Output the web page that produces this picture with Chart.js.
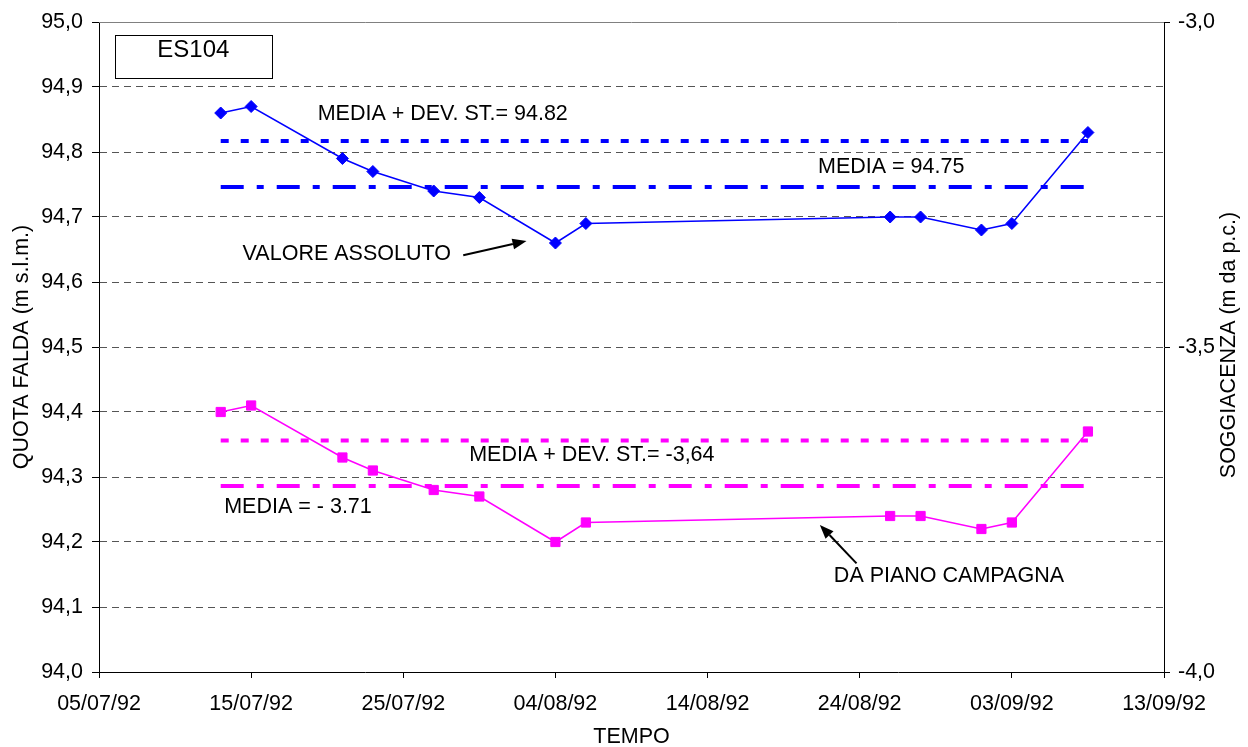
<!DOCTYPE html>
<html>
<head>
<meta charset="utf-8">
<script src="https://cdn.jsdelivr.net/npm/chart.js@4.4.0/dist/chart.umd.min.js"></script>
<style>
  html, body { margin: 0; padding: 0; background: #ffffff; }
  canvas { display: block; }
</style>
</head>
<body>
<canvas id="chart" width="1248" height="747"></canvas>
<script>
// ---------------- DATA ----------------
const measureDates = ['13/07/92','15/07/92','21/07/92','23/07/92','27/07/92','30/07/92','04/08/92','06/08/92','26/08/92','28/08/92','01/09/92','03/09/92','08/09/92'];
const quotaFalda   = [94.86, 94.87, 94.79, 94.77, 94.74, 94.73, 94.66, 94.69, 94.70, 94.70, 94.68, 94.69, 94.83];
const soggiacenza  = [-3.60, -3.59, -3.67, -3.69, -3.72, -3.73, -3.80, -3.77, -3.76, -3.76, -3.78, -3.77, -3.63];

const mediaQuota       = 94.746;
const mediaDevQuota    = 94.817;
const mediaSogg        = -3.714;
const mediaDevSogg     = -3.644;

const xTickLabels      = ['05/07/92','15/07/92','25/07/92','04/08/92','14/08/92','24/08/92','03/09/92','13/09/92'];
const yLeftTicks       = [94.0, 94.1, 94.2, 94.3, 94.4, 94.5, 94.6, 94.7, 94.8, 94.9, 95.0];
const yRightTicks      = [-4.0, -3.5, -3.0];

const titleLeft  = 'QUOTA FALDA (m s.l.m.)';
const titleRight = 'SOGGIACENZA (m da p.c.)';
const titleX     = 'TEMPO';

// annotations: x = days after first axis tick, y = value on left axis
const annotations = [
  { type: 'box',   x0: 1.05, x1: 11.39, y0: 94.9795, y1: 94.9145 },
  { type: 'text',  text: 'ES104', x: 6.2, y: 94.9557, align: 'center', size: 24 },
  { type: 'text',  text: 'MEDIA + DEV. ST.= 94.82', x: 14.37, y: 94.8576, align: 'left', size: 21.5 },
  { type: 'text',  text: 'MEDIA = 94.75', x: 47.26, y: 94.777, align: 'left', size: 21.5 },
  { type: 'text',  text: 'VALORE ASSOLUTO', x: 9.44, y: 94.6428, align: 'left', size: 21.5 },
  { type: 'arrow', x0: 23.94, y0: 94.6413, x1: 28.10, y1: 94.6632 },
  { type: 'text',  text: 'MEDIA + DEV. ST.= -3,64', x: 24.33, y: 94.3337, align: 'left', size: 21.5 },
  { type: 'text',  text: 'MEDIA = - 3.71', x: 8.23, y: 94.2542, align: 'left', size: 21.5 },
  { type: 'text',  text: 'DA PIANO CAMPAGNA', x: 48.30, y: 94.1476, align: 'left', size: 21.5 },
  { type: 'arrow', x0: 49.79, y0: 94.1672, x1: 47.38, y1: 94.2263 }
];

// ---------------- HELPERS ----------------
function dayNum(s) {
  const [d, m, y] = s.split('/').map(Number);
  return Date.UTC(1900 + y, m - 1, d) / 86400000;
}
const xs = measureDates.map(dayNum);
const xMin = dayNum(xTickLabels[0]);
const xMax = dayNum(xTickLabels[xTickLabels.length - 1]);
const xFirst = xs[0], xLast = xs[xs.length - 1];

const FONT = '"Liberation Sans", Arial, Helvetica, sans-serif';
const FS = 21.5;
Chart.defaults.font.family = FONT;
Chart.defaults.font.size = FS;
Chart.defaults.color = '#000';

const BLUE = '#0000ff';
const PINK = '#ff00ff';

const overlayPlugin = {
  id: 'overlay',
  afterDraw(chart) {
    const ctx = chart.ctx;
    const xS = chart.scales.x, yS = chart.scales.y;
    const ca = chart.chartArea;
    const px = d => xS.getPixelForValue(xMin + d);
    const py = v => yS.getPixelForValue(v);
    ctx.save();
    // top border of plot area
    ctx.strokeStyle = '#808080';
    ctx.lineWidth = 1;
    ctx.beginPath();
    ctx.moveTo(ca.left, Math.round(ca.top) + 0.5);
    ctx.lineTo(ca.right, Math.round(ca.top) + 0.5);
    ctx.stroke();

    annotations.forEach(a => {
      if (a.type === 'box') {
        const x0 = Math.round(px(a.x0)) + 0.5, x1 = Math.round(px(a.x1)) + 0.5;
        const y0 = Math.round(py(a.y0)) + 0.5, y1 = Math.round(py(a.y1)) + 0.5;
        ctx.fillStyle = '#fff';
        ctx.fillRect(x0, y0, x1 - x0, y1 - y0);
        ctx.strokeStyle = '#000';
        ctx.lineWidth = 1;
        ctx.strokeRect(x0, y0, x1 - x0, y1 - y0);
      } else if (a.type === 'text') {
        ctx.fillStyle = '#000';
        ctx.font = a.size + 'px ' + FONT;
        ctx.textAlign = a.align;
        ctx.textBaseline = 'middle';
        ctx.fillText(a.text, px(a.x), py(a.y));
      } else if (a.type === 'arrow') {
        const x0 = px(a.x0), y0 = py(a.y0), x1 = px(a.x1), y1 = py(a.y1);
        const ang = Math.atan2(y1 - y0, x1 - x0);
        const hl = 14, hw = 5.5;
        const bx = x1 - hl * Math.cos(ang), by = y1 - hl * Math.sin(ang);
        ctx.strokeStyle = '#000';
        ctx.lineWidth = 2;
        ctx.beginPath();
        ctx.moveTo(x0, y0);
        ctx.lineTo(bx, by);
        ctx.stroke();
        ctx.fillStyle = '#000';
        ctx.beginPath();
        ctx.moveTo(x1, y1);
        ctx.lineTo(bx + hw * Math.sin(ang), by - hw * Math.cos(ang));
        ctx.lineTo(bx - hw * Math.sin(ang), by + hw * Math.cos(ang));
        ctx.closePath();
        ctx.fill();
      }
    });

    // right axis title, reading bottom-to-top
    ctx.fillStyle = '#000';
    ctx.font = FS + 'px ' + FONT;
    ctx.textAlign = 'center';
    ctx.textBaseline = 'middle';
    ctx.translate(1229, (ca.top + ca.bottom) / 2 - 2);
    ctx.rotate(-Math.PI / 2);
    ctx.fillText(titleRight, 0, 0);
    ctx.restore();
  }
};

const refLine = (yVal, color, dash, axis) => ({
  data: [{ x: xFirst, y: yVal }, { x: xLast, y: yVal }],
  borderColor: color,
  borderWidth: 4,
  borderDash: dash,
  pointRadius: 0,
  pointHoverRadius: 0,
  yAxisID: axis,
  tension: 0,
  fill: false
});

const DOT = [8, 12];
const DASHDOT = [23, 13, 7, 13];

new Chart(document.getElementById('chart'), {
  type: 'line',
  data: {
    datasets: [
      {
        label: 'Valore assoluto',
        data: xs.map((x, i) => ({ x, y: quotaFalda[i] })),
        borderColor: BLUE,
        backgroundColor: BLUE,
        borderWidth: 1.5,
        pointStyle: 'rectRot',
        pointRadius: 6,
        pointBorderWidth: 1,
        yAxisID: 'y',
        tension: 0
      },
      {
        label: 'Da piano campagna',
        data: xs.map((x, i) => ({ x, y: soggiacenza[i] })),
        borderColor: PINK,
        backgroundColor: PINK,
        borderWidth: 1.5,
        pointStyle: 'rect',
        pointRadius: 6.5,
        pointBorderWidth: 1,
        yAxisID: 'y2',
        tension: 0
      },
      refLine(mediaDevQuota, BLUE, DOT, 'y'),
      refLine(mediaQuota, BLUE, DASHDOT, 'y'),
      refLine(mediaDevSogg, PINK, DOT, 'y2'),
      refLine(mediaSogg, PINK, DASHDOT, 'y2')
    ]
  },
  options: {
    responsive: false,
    animation: false,
    devicePixelRatio: 1,
    layout: { padding: { top: 22, left: 0, right: 0, bottom: 0 } },
    plugins: {
      legend: { display: false },
      tooltip: { enabled: false }
    },
    scales: {
      x: {
        type: 'linear',
        position: 'bottom',
        min: xMin,
        max: xMax,
        afterBuildTicks: s => { s.ticks = xTickLabels.map(t => ({ value: dayNum(t) })); },
        afterFit: s => { s.height = 75; },
        ticks: {
          padding: 13,
          autoSkip: false,
          maxRotation: 0,
          callback: (v, i) => xTickLabels[i]
        },
        grid: { drawOnChartArea: false, drawTicks: true, tickLength: 6, tickColor: '#000', color: '#000' },
        border: { color: '#000', width: 1 },
        title: {
          display: true,
          text: titleX,
          font: { size: FS, lineHeight: 1 },
          padding: { top: 0, bottom: -1 }
        }
      },
      y: {
        type: 'linear',
        position: 'left',
        min: 94.0,
        max: 95.0,
        afterBuildTicks: s => { s.ticks = yLeftTicks.map(v => ({ value: v })); },
        afterFit: s => { s.width = 99; },
        ticks: {
          padding: 9,
          callback: v => Number(v).toFixed(1).replace('.', ',')
        },
        grid: {
          drawTicks: true,
          tickLength: 7,
          tickColor: '#000',
          color: c => (c.tick && (c.tick.value > 94.999 || c.tick.value < 94.001)) ? 'rgba(0,0,0,0)' : '#555'
        },
        border: { color: '#000', width: 1, dash: [7, 5] },
        title: {
          display: true,
          text: titleLeft,
          font: { size: FS, lineHeight: 1.2 },
          padding: { top: 9, bottom: 0 }
        }
      },
      y2: {
        type: 'linear',
        position: 'right',
        min: -4.0,
        max: -3.0,
        afterBuildTicks: s => { s.ticks = yRightTicks.map(v => ({ value: v })); },
        afterFit: s => { s.width = 84; },
        ticks: {
          padding: 8,
          callback: v => Number(v).toFixed(1).replace('.', ',')
        },
        grid: { drawOnChartArea: false, drawTicks: true, tickLength: 6, tickColor: '#000', color: '#000' },
        border: { color: '#000', width: 1 }
      }
    }
  },
  plugins: [overlayPlugin]
});
</script>
</body>
</html>
